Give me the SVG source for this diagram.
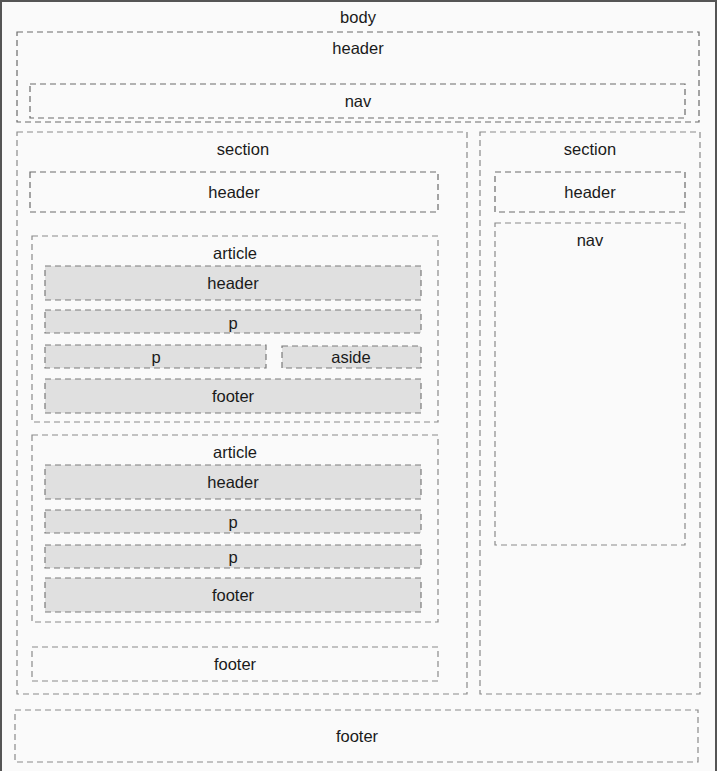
<svg xmlns="http://www.w3.org/2000/svg" width="720" height="771" viewBox="0 0 720 771">
<style>
.box{fill:#fafafa;stroke:#8a8a8a;stroke-width:1.2;stroke-dasharray:6 4}
.dk{stroke:#6a6a6a}
.gray{fill:#e0e0e0;stroke:#7a7a7a;stroke-width:1.2;stroke-dasharray:6 4}
text{font-family:"Liberation Sans",Arial,Helvetica,sans-serif;font-size:16.5px;fill:#1a1a1a;text-anchor:middle;dominant-baseline:central}
</style>
<rect x="0" y="0" width="720" height="771" fill="#ffffff"/>
<rect x="1" y="1" width="715" height="775" fill="#fafafa"/>
<path d="M1 771 V1 H716 V771" fill="none" stroke="#555" stroke-width="2"/>
<g id="body"><text x="358" y="17">body</text></g>
<g id="page-header">
<rect class="box dk" x="17" y="32" width="682" height="90"/>
<text x="358" y="48">header</text>
</g>
<g id="page-nav">
<rect class="box dk" x="30" y="84" width="655" height="34"/>
<text x="358" y="101">nav</text>
</g>
<g id="section-left">
<rect class="box" x="17" y="132" width="450" height="562"/>
<text x="243" y="149">section</text>
</g>
<g id="section-left-header">
<rect class="box dk" x="30" y="172" width="408" height="40"/>
<text x="234" y="192">header</text>
</g>
<g id="article1">
<rect class="box" x="32" y="236" width="406" height="186"/>
<text x="235" y="253">article</text>
</g>
<g id="article1-header"><rect class="gray" x="45" y="266" width="376" height="34"/><text x="233" y="283">header</text></g>
<g id="article1-p1"><rect class="gray" x="45" y="310" width="376" height="23"/><text x="233" y="323">p</text></g>
<g id="article1-p2"><rect class="gray" x="45" y="345" width="221" height="23"/><text x="156" y="357">p</text></g>
<g id="article1-aside"><rect class="gray" x="282" y="346" width="139" height="22"/><text x="351" y="357">aside</text></g>
<g id="article1-footer"><rect class="gray" x="45" y="379" width="376" height="34"/><text x="233" y="396">footer</text></g>
<g id="article2">
<rect class="box" x="32" y="435" width="406" height="187"/>
<text x="235" y="452">article</text>
</g>
<g id="article2-header"><rect class="gray" x="45" y="465" width="376" height="34"/><text x="233" y="482">header</text></g>
<g id="article2-p1"><rect class="gray" x="45" y="510" width="376" height="23"/><text x="233" y="522">p</text></g>
<g id="article2-p2"><rect class="gray" x="45" y="545" width="376" height="23"/><text x="233" y="557">p</text></g>
<g id="article2-footer"><rect class="gray" x="45" y="578" width="376" height="34"/><text x="233" y="595">footer</text></g>
<g id="section-left-footer">
<rect class="box" x="32" y="647" width="406" height="34"/>
<text x="235" y="664">footer</text>
</g>
<g id="section-right">
<rect class="box" x="480" y="132" width="220" height="562"/>
<text x="590" y="149">section</text>
</g>
<g id="section-right-header">
<rect class="box dk" x="495" y="172" width="190" height="40"/>
<text x="590" y="192">header</text>
</g>
<g id="section-right-nav">
<rect class="box" x="495" y="223" width="190" height="322"/>
<text x="590" y="240">nav</text>
</g>
<g id="page-footer">
<rect class="box" x="15" y="710" width="683" height="52"/>
<text x="357" y="736">footer</text>
</g>
<g id="connectors"></g>
</svg>
